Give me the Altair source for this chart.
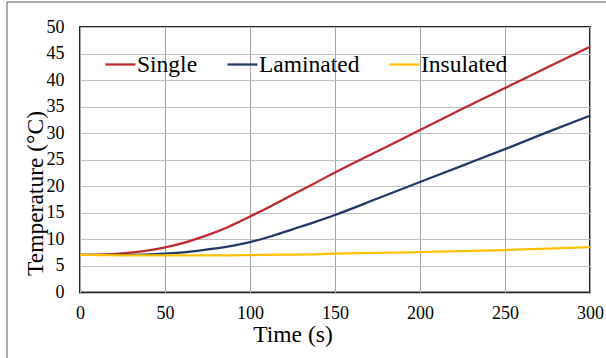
import altair as alt
import pandas as pd

# Heating curves for three wall constructions
time_s = [0, 12.5, 25, 37.5, 50, 62.5, 75, 87.5, 100, 112.5, 125, 137.5, 150,
          175, 200, 225, 250, 275, 300]
single = [7.1, 7.15, 7.35, 7.8, 8.5, 9.5, 10.8, 12.4, 14.3, 16.3, 18.4, 20.5, 22.6,
          26.6, 30.6, 34.6, 38.5, 42.4, 46.3]
laminated = [7.1, 7.1, 7.1, 7.15, 7.3, 7.6, 8.1, 8.7, 9.5, 10.6, 11.9, 13.2, 14.6,
             17.7, 20.8, 23.9, 27.0, 30.2, 33.3]
insulated = [7.1, 7.05, 7.0, 7.0, 7.0, 7.0, 7.0, 7.0, 7.05, 7.1, 7.15, 7.2, 7.3,
             7.45, 7.6, 7.8, 8.0, 8.25, 8.55]

series_names = ["Single", "Laminated", "Insulated"]
series_colors = ["#C1272D", "#1F3864", "#FFC000"]
x_ticks = [0, 50, 100, 150, 200, 250, 300]
y_ticks = [0, 5, 10, 15, 20, 25, 30, 35, 40, 45, 50]

FONT = "Liberation Serif"

rows = []
for name, vals in zip(series_names, [single, laminated, insulated]):
    for t, v in zip(time_s, vals):
        rows.append({"time": t, "temp": v, "series": name})
df = pd.DataFrame(rows)

x_enc = alt.X(
    "time:Q",
    scale=alt.Scale(domain=[0, 300], nice=False),
    axis=alt.Axis(
        values=x_ticks, title="Time (s)", grid=True, gridColor="#a6a6a6", gridWidth=1,
        labelPadding=12, labelFlush=False, titleX=212.5, titleY=48.5, titleAlign="center",
        titleBaseline="alphabetic",
    ),
)
y_enc = alt.Y(
    "temp:Q",
    scale=alt.Scale(domain=[0, 50], nice=False),
    axis=alt.Axis(
        values=y_ticks, title="Temperature (°C)", grid=True, gridColor="#bfbfbf", gridWidth=1,
        labelPadding=16, labelFlush=False, titleAngle=270, titleX=-38, titleY=166,
        titleAlign="center", titleBaseline="alphabetic",
    ),
)
color_enc = alt.Color(
    "series:N",
    scale=alt.Scale(domain=series_names, range=series_colors),
    legend=alt.Legend(
        title=None, orient="none", legendX=24, legendY=21, direction="horizontal",
        columns=3, symbolType="stroke", symbolSize=900, symbolStrokeWidth=2.25,
        columnPadding=25, labelOffset=0, padding=0,
    ),
)

layers = []
for name in series_names:
    layers.append(
        alt.Chart(df)
        .transform_filter(alt.datum.series == name)
        .mark_line(strokeWidth=2.25, interpolate="monotone")
        .encode(x=x_enc, y=y_enc, color=color_enc)
    )

# Outer figure frame (left and top edges)
frame = alt.Data(values=[{}])
frame_left = alt.Chart(frame).mark_rule(color="#595959", strokeWidth=1).encode(
    x=alt.value(-73), y=alt.value(-25), y2=alt.value(331)
)
frame_top = alt.Chart(frame).mark_rule(color="#595959", strokeWidth=1).encode(
    x=alt.value(-73), x2=alt.value(526), y=alt.value(-25)
)

chart = (
    alt.layer(*layers, frame_left, frame_top)
    .properties(
        width=510, height=265.5, autosize="none",
        padding={"left": 80, "top": 27, "right": 16, "bottom": 65.5},
        background="white",
    )
    .configure(font=FONT)
    .configure_axis(
        domain=False, ticks=False, labelFont=FONT, labelFontSize=18, labelColor="black",
        titleFont=FONT, titleFontSize=23.5, titleFontWeight="normal", titleColor="black",
    )
    .configure_legend(labelFont=FONT, labelFontSize=23.5, labelColor="black")
    .configure_view(stroke="#262626", strokeWidth=2)
)

chart.save("out.html", embed_options={"renderer": "svg", "actions": False})
